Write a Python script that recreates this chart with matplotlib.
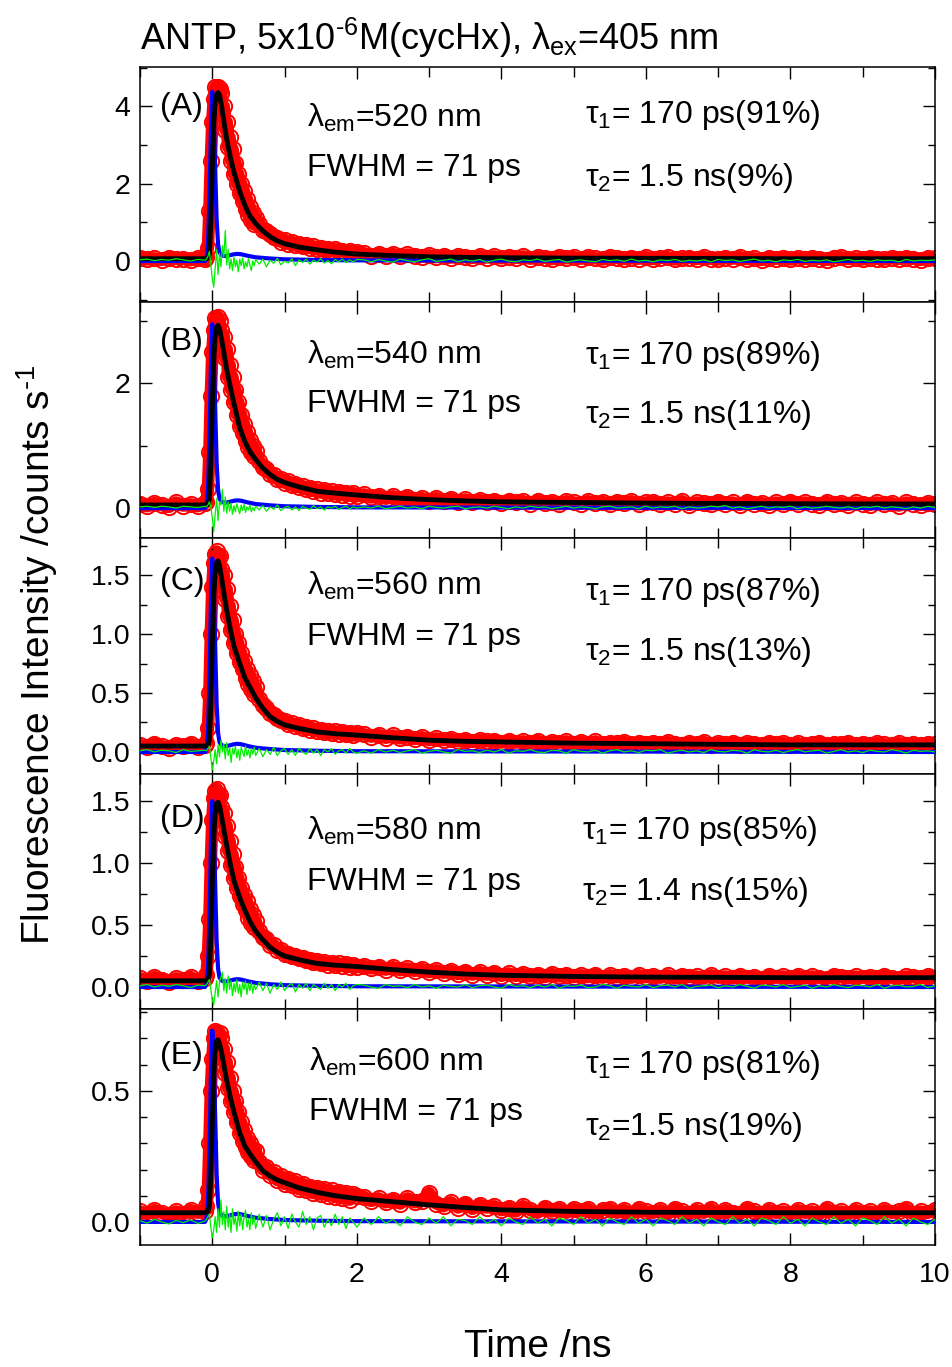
import numpy as np
import matplotlib
matplotlib.use('Agg')
import matplotlib.pyplot as plt
from matplotlib.ticker import MultipleLocator, FormatStrFormatter

plt.rcParams['font.family'] = ['Liberation Sans', 'DejaVu Sans']
plt.rcParams['mathtext.fontset'] = 'custom'
plt.rcParams['mathtext.rm'] = 'Liberation Sans'
plt.rcParams['mathtext.it'] = 'Liberation Sans:italic'
plt.rcParams['mathtext.default'] = 'regular'

# time channels (ns) of the measured points
t_data = np.concatenate([np.arange(-1.0, -0.05, 0.1),
                         np.arange(-0.08, 0.61, 0.02),
                         np.arange(0.65, 2.01, 0.05),
                         np.arange(2.1, 10.01, 0.1)])

data_A = [0.08, 0.04, 0.07, 0.03, 0.09, 0.05, 0.06, 0.02, 0.08, 0.05,
          0.10, 0.35, 1.3, 2.6, 3.6, 4.2, 4.5, 4.45, 4.5,
          4.45, 4.35, 3.85, 4.0, 3.4, 3.6, 2.95, 3.2, 2.6, 2.9,
          2.25, 2.55, 2.0, 2.25, 1.75, 2.0, 1.55, 1.8, 1.35, 1.6,
          1.2, 1.4, 1.05, 1.25, 0.95, 1.12,
          0.95, 0.8, 0.78, 0.7, 0.62, 0.6, 0.5, 0.55, 0.45, 0.5,
          0.42, 0.44, 0.38, 0.42, 0.35, 0.38, 0.31, 0.35, 0.3, 0.32,
          0.26, 0.3, 0.25, 0.27, 0.22, 0.26, 0.2, 0.24,
          0.2, 0.14, 0.19, 0.13, 0.18, 0.12, 0.17, 0.14, 0.11, 0.15,
          0.1, 0.14, 0.09, 0.13, 0.1, 0.08, 0.13, 0.09, 0.12, 0.07,
          0.11, 0.08, 0.12, 0.06, 0.1, 0.09, 0.05, 0.11, 0.07, 0.1,
          0.06, 0.1, 0.07, 0.04, 0.11, 0.08, 0.05, 0.09, 0.06, 0.1,
          0.05, 0.08, 0.1, 0.04, 0.07, 0.09, 0.05, 0.1, 0.06, 0.04,
          0.09, 0.06, 0.1, 0.05, 0.07, 0.03, 0.09, 0.06, 0.08, 0.04,
          0.08, 0.05, 0.09, 0.06, 0.03, 0.08, 0.1, 0.05, 0.07, 0.04,
          0.09, 0.06, 0.04, 0.08, 0.05, 0.09, 0.06, 0.03, 0.08, 0.07]
data_B = [0.07, 0.03, 0.08, 0.05, 0.02, 0.09, 0.04, 0.06, 0.03, 0.08,
          0.1, 0.3, 0.9, 1.8, 2.5, 2.85, 3.05, 3.0, 3.07,
          3.0, 2.85, 2.65, 2.75, 2.4, 2.55, 2.1, 2.3, 1.9, 2.1,
          1.7, 1.9, 1.5, 1.7, 1.32, 1.5, 1.2, 1.35, 1.08, 1.22,
          0.98, 1.1, 0.9, 1.0, 0.83, 0.92,
          0.75, 0.66, 0.62, 0.55, 0.53, 0.47, 0.47, 0.41, 0.43, 0.37,
          0.39, 0.34, 0.35, 0.3, 0.33, 0.28, 0.3, 0.25, 0.29, 0.24,
          0.27, 0.22, 0.26, 0.21, 0.25, 0.2, 0.24, 0.19,
          0.22, 0.17, 0.2, 0.15, 0.19, 0.14, 0.18, 0.13, 0.16, 0.12,
          0.16, 0.11, 0.15, 0.1, 0.14, 0.09, 0.13, 0.1, 0.12, 0.08,
          0.12, 0.09, 0.11, 0.07, 0.12, 0.08, 0.1, 0.06, 0.11, 0.09,
          0.07, 0.11, 0.08, 0.1, 0.06, 0.1, 0.08, 0.11, 0.06, 0.09,
          0.1, 0.06, 0.09, 0.07, 0.11, 0.05, 0.09, 0.08, 0.06, 0.1,
          0.07, 0.09, 0.05, 0.1, 0.07, 0.08, 0.05, 0.09, 0.06, 0.1,
          0.06, 0.09, 0.07, 0.05, 0.1, 0.06, 0.08, 0.05, 0.09, 0.07,
          0.05, 0.09, 0.06, 0.08, 0.04, 0.09, 0.07, 0.05, 0.08, 0.06]
data_C = [0.06, 0.04, 0.07, 0.05, 0.03, 0.06, 0.05, 0.07, 0.04, 0.06,
          0.08, 0.2, 0.5, 1.0, 1.4, 1.6, 1.68, 1.7, 1.66,
          1.66, 1.55, 1.45, 1.5, 1.3, 1.38, 1.15, 1.24, 1.03, 1.12,
          0.92, 1.0, 0.84, 0.92, 0.76, 0.84, 0.7, 0.77, 0.63, 0.7,
          0.58, 0.65, 0.53, 0.6, 0.49, 0.55,
          0.45, 0.4, 0.37, 0.33, 0.31, 0.29, 0.27, 0.26, 0.24, 0.245,
          0.22, 0.23, 0.2, 0.215, 0.19, 0.2, 0.18, 0.19, 0.17, 0.18,
          0.16, 0.175, 0.155, 0.17, 0.15, 0.165, 0.145, 0.16,
          0.15, 0.13, 0.145, 0.12, 0.14, 0.115, 0.13, 0.11, 0.125, 0.1,
          0.115, 0.1, 0.11, 0.09, 0.105, 0.085, 0.1, 0.09, 0.095, 0.08,
          0.095, 0.08, 0.09, 0.075, 0.095, 0.07, 0.085, 0.08, 0.09, 0.07,
          0.085, 0.07, 0.09, 0.065, 0.08, 0.075, 0.085, 0.065, 0.08, 0.07,
          0.08, 0.065, 0.085, 0.07, 0.06, 0.08, 0.07, 0.085, 0.06, 0.075,
          0.065, 0.08, 0.06, 0.075, 0.07, 0.055, 0.08, 0.065, 0.075, 0.06,
          0.075, 0.06, 0.07, 0.08, 0.055, 0.07, 0.065, 0.08, 0.06, 0.07,
          0.06, 0.075, 0.065, 0.055, 0.075, 0.06, 0.07, 0.055, 0.07, 0.065]
data_D = [0.07, 0.05, 0.08, 0.06, 0.04, 0.07, 0.06, 0.08, 0.05, 0.07,
          0.1, 0.25, 0.55, 1.0, 1.35, 1.52, 1.58, 1.6, 1.55,
          1.55, 1.45, 1.35, 1.4, 1.22, 1.3, 1.1, 1.18, 0.98, 1.07,
          0.88, 0.97, 0.8, 0.88, 0.73, 0.8, 0.67, 0.74, 0.62, 0.69,
          0.56, 0.63, 0.52, 0.58, 0.48, 0.53,
          0.45, 0.4, 0.39, 0.34, 0.34, 0.3, 0.3, 0.27, 0.27, 0.25,
          0.25, 0.23, 0.235, 0.215, 0.22, 0.2, 0.21, 0.19, 0.2, 0.18,
          0.195, 0.175, 0.19, 0.17, 0.185, 0.165, 0.18, 0.16,
          0.17, 0.15, 0.165, 0.14, 0.16, 0.135, 0.15, 0.13, 0.145, 0.12,
          0.135, 0.115, 0.13, 0.105, 0.125, 0.1, 0.12, 0.1, 0.115, 0.09,
          0.11, 0.09, 0.105, 0.085, 0.1, 0.08, 0.105, 0.085, 0.1, 0.08,
          0.095, 0.08, 0.1, 0.075, 0.095, 0.08, 0.09, 0.075, 0.095, 0.08,
          0.09, 0.075, 0.095, 0.07, 0.09, 0.08, 0.085, 0.07, 0.095, 0.075,
          0.085, 0.07, 0.09, 0.075, 0.08, 0.065, 0.09, 0.075, 0.085, 0.07,
          0.09, 0.07, 0.085, 0.075, 0.065, 0.09, 0.08, 0.07, 0.085, 0.075,
          0.08, 0.07, 0.09, 0.075, 0.065, 0.085, 0.08, 0.07, 0.09, 0.075]
data_E = [0.04, 0.03, 0.045, 0.035, 0.025, 0.04, 0.03, 0.045, 0.035, 0.04,
          0.06, 0.12, 0.3, 0.5, 0.62, 0.7, 0.73, 0.72, 0.71,
          0.72, 0.7, 0.63, 0.66, 0.57, 0.61, 0.51, 0.55, 0.46, 0.5,
          0.42, 0.46, 0.38, 0.42, 0.34, 0.38, 0.31, 0.35, 0.285, 0.32,
          0.265, 0.3, 0.25, 0.28, 0.235, 0.27,
          0.23, 0.2, 0.21, 0.18, 0.19, 0.16, 0.175, 0.145, 0.165, 0.14,
          0.155, 0.125, 0.145, 0.12, 0.135, 0.11, 0.13, 0.105, 0.125, 0.1,
          0.12, 0.095, 0.115, 0.09, 0.11, 0.085, 0.105, 0.1,
          0.095, 0.08, 0.09, 0.075, 0.085, 0.07, 0.09, 0.075, 0.08, 0.11,
          0.07, 0.06, 0.075, 0.055, 0.07, 0.05, 0.065, 0.055, 0.06, 0.045,
          0.055, 0.04, 0.06, 0.045, 0.035, 0.055, 0.04, 0.05, 0.035, 0.05,
          0.04, 0.05, 0.03, 0.045, 0.05, 0.035, 0.045, 0.03, 0.05, 0.04,
          0.035, 0.045, 0.03, 0.05, 0.04, 0.03, 0.045, 0.035, 0.05, 0.03,
          0.045, 0.035, 0.03, 0.05, 0.04, 0.03, 0.045, 0.035, 0.04, 0.03,
          0.045, 0.035, 0.04, 0.03, 0.05, 0.035, 0.04, 0.03, 0.045, 0.035,
          0.04, 0.03, 0.045, 0.035, 0.04, 0.05, 0.03, 0.04, 0.035, 0.045]

# residual traces (green)
resid_A = [0.03, 0.05, 0.01, 0.04, 0.02, 0.06, 0.03, 0.0, 0.04, 0.02,
           0.05, 0.12, 0.25, -0.1, -0.45, -0.68, -0.2, 0.3, -0.35, 0.2,
           -0.15, 0.4, 0.1, 0.79, -0.1, 0.3, -0.2, 0.05, -0.25, 0.1,
           -0.15, 0.02, -0.28, 0.05, -0.12, 0.08, -0.2, -0.02, -0.15, 0.06,
           -0.1, -0.25, 0.0, -0.12, 0.04,
           -0.08, 0.05, -0.15, 0.02, -0.06, 0.07, -0.1, 0.0, -0.05, 0.06,
           -0.12, 0.03, -0.04, 0.05, -0.08, 0.02, -0.03, 0.06, -0.05, 0.01,
           -0.07, 0.04, -0.02, 0.05, -0.04, 0.03, -0.02, 0.04,
           0.03, -0.02, 0.04, 0.0, -0.03, 0.05, 0.01, -0.02, 0.03, 0.06,
           -0.01, 0.02, 0.05, -0.02, 0.03, 0.0, 0.04, -0.03, 0.02, 0.05,
           0.0, -0.02, 0.03, 0.01, 0.05, -0.01, 0.02, 0.04, -0.03, 0.01,
           0.03, 0.0, -0.02, 0.04, 0.01, 0.03, -0.01, 0.05, 0.0, 0.02,
           -0.02, 0.03, 0.01, 0.04, -0.01, 0.02, 0.0, 0.03, -0.02, 0.04,
           0.01, 0.03, -0.01, 0.02, 0.05, 0.0, 0.02, -0.02, 0.03, 0.01,
           0.04, -0.01, 0.02, 0.0, 0.03, -0.02, 0.01, 0.04, 0.0, 0.02,
           -0.01, 0.03, 0.01, 0.02, -0.02, 0.04, 0.0, 0.02, 0.01, 0.03]
resid_B = [0.02, 0.03, 0.01, 0.03, 0.02, 0.0, 0.03, 0.02, 0.01, 0.03,
           0.02, 0.05, 0.1, 0.02, -0.15, -0.38, -0.1, 0.15, -0.2, 0.1,
           0.05, 0.3, -0.05, 0.18, -0.08, 0.1, -0.05, 0.08, -0.1, 0.04,
           -0.06, 0.07, -0.02, -0.09, 0.05, -0.04, 0.06, -0.07, 0.02, -0.03,
           0.05, -0.06, 0.01, -0.04, 0.03,
           -0.03, 0.04, -0.05, 0.02, -0.02, 0.05, -0.04, 0.01, 0.03, -0.03,
           0.02, -0.04, 0.03, 0.0, -0.02, 0.04, -0.01, 0.02, -0.03, 0.02,
           0.0, 0.03, -0.02, 0.01, 0.03, -0.01, 0.02, 0.0,
           0.02, 0.0, 0.03, -0.01, 0.01, 0.03, 0.0, 0.02, -0.01, 0.03,
           0.01, 0.0, 0.02, 0.03, -0.01, 0.01, 0.02, 0.0, 0.03, 0.01,
           -0.01, 0.02, 0.0, 0.03, 0.01, 0.02, -0.01, 0.01, 0.03, 0.0,
           0.02, 0.01, -0.01, 0.02, 0.03, 0.0, 0.01, 0.02, -0.01, 0.03,
           0.0, 0.02, 0.01, 0.03, -0.01, 0.02, 0.0, 0.01, 0.03, 0.02,
           0.04, 0.0, 0.02, -0.01, 0.01, 0.03, 0.0, 0.02, 0.01, 0.03,
           -0.01, 0.02, 0.0, 0.01, 0.03, 0.01, 0.0, 0.02, -0.01, 0.02,
           0.01, 0.03, 0.0, 0.02, 0.01, -0.01, 0.02, 0.0, 0.03, 0.01]
resid_C = [0.01, 0.02, 0.0, 0.015, 0.01, -0.005, 0.02, 0.005, 0.01, 0.015,
           0.01, 0.03, 0.05, -0.05, -0.15, -0.08, 0.02, -0.1, 0.06, -0.04,
           0.1, 0.0, 0.07, -0.06, 0.08, -0.03, 0.04, -0.09, 0.03, -0.02,
           0.05, -0.05, 0.02, -0.07, 0.04, 0.0, -0.04, 0.05, -0.03, 0.02,
           -0.05, 0.03, -0.02, 0.04, -0.03,
           0.03, -0.04, 0.02, -0.02, 0.04, -0.03, 0.01, 0.03, -0.02, 0.02,
           -0.03, 0.03, 0.0, -0.02, 0.03, -0.01, 0.02, -0.03, 0.02, 0.0,
           0.03, -0.02, 0.01, 0.02, -0.01, 0.03, 0.0, -0.01,
           0.01, -0.01, 0.02, 0.0, 0.015, -0.005, 0.01, 0.02, -0.01, 0.005,
           0.015, 0.0, -0.01, 0.02, 0.005, 0.01, -0.005, 0.015, 0.0, 0.02,
           -0.01, 0.01, 0.005, 0.02, 0.0, -0.005, 0.015, 0.01, -0.01, 0.02,
           0.005, 0.0, 0.015, -0.01, 0.01, 0.02, 0.0, 0.01, -0.005, 0.015,
           0.01, 0.02, -0.01, 0.005, 0.015, 0.0, 0.01, -0.005, 0.02, 0.005,
           0.0, 0.015, 0.01, -0.01, 0.02, 0.005, 0.0, 0.015, -0.005, 0.01,
           0.02, 0.0, 0.01, 0.015, -0.01, 0.005, 0.02, 0.0, 0.01, -0.005,
           0.015, 0.005, 0.0, 0.02, 0.01, -0.01, 0.015, 0.005, 0.01, 0.0]
resid_D = [0.01, 0.02, 0.0, 0.015, 0.005, 0.02, 0.01, -0.005, 0.015, 0.01,
           0.02, 0.04, 0.06, -0.02, -0.1, -0.145, -0.05, 0.05, -0.08, 0.04,
           0.08, 0.12, -0.03, 0.07, -0.05, 0.09, -0.02, 0.05, -0.07, 0.03,
           -0.04, 0.06, -0.05, 0.02, -0.08, 0.04, -0.02, 0.05, -0.06, 0.03,
           -0.03, 0.04, -0.05, 0.02, -0.02,
           0.04, -0.03, 0.03, -0.05, 0.02, -0.02, 0.04, -0.03, 0.01, 0.03,
           -0.04, 0.02, -0.01, 0.03, -0.03, 0.02, 0.0, -0.02, 0.03, -0.01,
           0.02, -0.03, 0.02, 0.0, 0.03, -0.02, 0.01, 0.02,
           0.015, 0.0, -0.01, 0.02, 0.005, 0.01, -0.005, 0.02, 0.0, 0.01,
           -0.01, 0.015, 0.005, 0.0, 0.02, -0.005, 0.01, 0.015, 0.0, -0.01,
           0.02, 0.005, 0.01, -0.005, 0.015, 0.0, 0.02, -0.01, 0.01, 0.005,
           0.015, -0.005, 0.0, 0.02, 0.01, -0.01, 0.015, 0.005, 0.0, 0.02,
           -0.005, 0.01, 0.015, 0.0, 0.02, -0.01, 0.005, 0.01, 0.015, -0.005,
           0.01, 0.0, 0.02, 0.005, -0.01, 0.015, 0.01, 0.0, 0.02, -0.005,
           0.005, 0.015, -0.01, 0.01, 0.0, 0.02, 0.005, -0.005, 0.015, 0.01,
           0.0, 0.02, -0.01, 0.01, 0.015, 0.0, 0.005, 0.02, -0.005, 0.01]
resid_E = [0.005, -0.005, 0.01, 0.0, -0.008, 0.006, -0.003, 0.008, -0.006, 0.004,
           0.01, 0.02, 0.03, -0.02, -0.06, -0.03, 0.02, -0.04, 0.05, -0.02,
           0.084, -0.01, 0.04, -0.03, 0.06, -0.02, 0.03, -0.04, 0.05, -0.01,
           0.02, -0.035, 0.04, -0.015, 0.03, -0.03, 0.02, 0.045, -0.02, 0.01,
           -0.03, 0.035, -0.01, 0.02, -0.025,
           0.03, -0.02, 0.025, -0.03, 0.01, 0.035, -0.015, 0.02, -0.025, 0.03,
           0.0, -0.02, 0.04, -0.01, 0.02, -0.03, 0.015, 0.025, -0.02, 0.01,
           -0.015, 0.03, -0.01, 0.02, -0.025, 0.015, 0.0, -0.02,
           0.015, -0.01, 0.02, -0.005, 0.01, -0.015, 0.02, 0.0, -0.01, 0.015,
           -0.005, 0.02, -0.015, 0.01, 0.005, -0.01, 0.02, -0.005, 0.01, -0.015,
           0.015, 0.0, -0.01, 0.02, -0.005, 0.01, -0.015, 0.015, 0.005, -0.01,
           0.02, -0.005, 0.01, -0.015, 0.015, 0.0, -0.01, 0.02, -0.005, 0.01,
           -0.015, 0.015, 0.005, -0.01, 0.02, -0.005, 0.01, -0.015, 0.015, 0.0,
           -0.01, 0.02, -0.005, 0.01, -0.015, 0.015, 0.005, -0.01, 0.02, -0.005,
           0.01, -0.015, 0.015, 0.0, -0.01, 0.02, -0.005, 0.01, -0.015, 0.015,
           0.005, -0.01, 0.02, -0.005, 0.01, -0.015, 0.015, 0.0, -0.01, 0.01]

# fitted curves (black)
t_fit = [-1.0, -0.1, -0.06, -0.04, -0.02, 0.0, 0.02, 0.04, 0.06, 0.08,
         0.10, 0.13, 0.16, 0.20, 0.25, 0.30, 0.38, 0.45, 0.52, 0.60,
         0.70, 0.80, 0.90, 1.0, 1.2, 1.45, 1.7, 2.0, 2.5, 3.0,
         3.5, 4.0, 5.0, 6.0, 7.0, 8.0, 10.0]
fit_A = [0.06, 0.06, 0.08, 0.2, 1.0, 2.4, 3.5, 4.1, 4.3, 4.36,
         4.3, 4.0, 3.62, 3.15, 2.69, 2.3, 1.8, 1.45, 1.17, 0.97,
         0.78, 0.63, 0.52, 0.45, 0.36, 0.29, 0.23, 0.18, 0.14, 0.11,
         0.095, 0.085, 0.075, 0.07, 0.065, 0.06, 0.06]
fit_B = [0.05, 0.05, 0.06, 0.15, 0.7, 1.6, 2.35, 2.75, 2.9, 2.93,
         2.88, 2.7, 2.5, 2.22, 1.94, 1.68, 1.29, 1.07, 0.91, 0.78,
         0.64, 0.54, 0.46, 0.41, 0.34, 0.27, 0.24, 0.21, 0.165, 0.135,
         0.115, 0.1, 0.09, 0.08, 0.075, 0.07, 0.065]
fit_C = [0.05, 0.05, 0.055, 0.1, 0.4, 0.9, 1.3, 1.52, 1.6, 1.62,
         1.58, 1.47, 1.35, 1.2, 1.04, 0.9, 0.75, 0.63, 0.55, 0.46,
         0.37, 0.30, 0.26, 0.23, 0.20, 0.17, 0.155, 0.143, 0.12, 0.10,
         0.09, 0.085, 0.075, 0.07, 0.065, 0.06, 0.06]
fit_D = [0.05, 0.05, 0.055, 0.1, 0.4, 0.85, 1.2, 1.4, 1.48, 1.49,
         1.46, 1.37, 1.27, 1.14, 0.99, 0.86, 0.72, 0.62, 0.53, 0.45,
         0.38, 0.32, 0.28, 0.25, 0.22, 0.19, 0.176, 0.165, 0.14, 0.12,
         0.105, 0.095, 0.085, 0.08, 0.078, 0.075, 0.075]
fit_E = [0.035, 0.035, 0.04, 0.06, 0.18, 0.38, 0.55, 0.65, 0.69, 0.695,
         0.68, 0.645, 0.60, 0.54, 0.475, 0.42, 0.34, 0.29, 0.26, 0.23,
         0.195, 0.175, 0.16, 0.15, 0.13, 0.113, 0.1, 0.089, 0.077, 0.065,
         0.055, 0.046, 0.04, 0.037, 0.036, 0.035, 0.035]

# instrument response (blue), normalised, with its peak height per panel
t_irf = [-1.0, -0.1, -0.08, -0.06, -0.04, -0.02, 0.0, 0.02, 0.04, 0.06,
         0.08, 0.10, 0.13, 0.16, 0.20, 0.25, 0.30, 0.35, 0.40, 0.45,
         0.50, 0.60, 0.80, 1.0, 1.5, 2.0, 10.0]
irf_shape = [0.0, 0.0, 0.02, 0.10, 0.35, 0.75, 1.0, 0.88, 0.55, 0.25,
             0.10, 0.05, 0.035, 0.03, 0.03, 0.035, 0.04, 0.042, 0.04, 0.035,
             0.03, 0.022, 0.015, 0.01, 0.006, 0.004, 0.0]
irf_peak = [4.38, 2.95, 1.64, 1.50, 0.73]

panel_names = ['(A)', '(B)', '(C)', '(D)', '(E)']
em_wavelength = [520, 540, 560, 580, 600]
tau1_text = ['= 170 ps(91%)', '= 170 ps(89%)', '= 170 ps(87%)', '= 170 ps(85%)', '= 170 ps(81%)']
tau2_text = ['= 1.5 ns(9%)', '= 1.5 ns(11%)', '= 1.5 ns(13%)', '= 1.4 ns(15%)', '=1.5 ns(19%)']
y_limits = [(-1.07, 5.03), (-0.48, 3.30), (-0.184, 1.814), (-0.18, 1.72), (-0.088, 0.811)]
y_major = [2, 2, 0.5, 0.5, 0.5]
y_minor = [1, 1, 0.25, 0.25, 0.1]
y_fmt = ['%d', '%d', '%.1f', '%.1f', '%.1f']

datas = [data_A, data_B, data_C, data_D, data_E]
resids = [resid_A, resid_B, resid_C, resid_D, resid_E]
fits = [fit_A, fit_B, fit_C, fit_D, fit_E]

# text placement (axes fraction)
lab_y = [0.795, 0.798, 0.779, 0.774, 0.768]
lam_y = [0.746, 0.74, 0.76, 0.717, 0.737]
fwhm_y = [0.535, 0.535, 0.547, 0.507, 0.531]
t1_y = [0.759, 0.74, 0.739, 0.721, 0.728]
t2_y = [0.494, 0.489, 0.483, 0.465, 0.468]
lam_x = [0.21, 0.21, 0.21, 0.21, 0.2126]
tau_x = [0.56, 0.56, 0.56, 0.556, 0.56]

fig, axes = plt.subplots(5, 1, figsize=(9.52, 13.67), dpi=100, sharex=True)
fig.subplots_adjust(left=140 / 952, right=935 / 952, top=1 - 66.7 / 1367,
                    bottom=1 - 1245 / 1367, hspace=0)

for i, ax in enumerate(axes):
    ax.plot(t_data, datas[i], color='red', lw=9, zorder=1)
    ax.plot(t_data, datas[i], 'o', mfc='none', mec='red', ms=11, mew=1.4, zorder=2)
    ax.plot(t_irf, np.array(irf_shape) * irf_peak[i], color='blue', lw=3, zorder=3)
    ax.plot(t_fit, fits[i], color='black', lw=3.5, zorder=4)
    ax.plot(t_data, resids[i], color='#00ee00', lw=0.9, zorder=5)

    ax.set_xlim(-1, 10)
    ax.set_ylim(*y_limits[i])
    ax.xaxis.set_major_locator(MultipleLocator(2))
    ax.xaxis.set_minor_locator(MultipleLocator(1))
    ax.yaxis.set_major_locator(MultipleLocator(y_major[i]))
    ax.yaxis.set_minor_locator(MultipleLocator(y_minor[i]))
    ax.yaxis.set_major_formatter(FormatStrFormatter(y_fmt[i]))
    ax.tick_params(which='both', direction='in', top=True, right=True, width=1.0)
    ax.tick_params(which='major', length=8.5, labelsize=20.5)
    ax.tick_params(which='minor', length=5)
    ax.tick_params(axis='x', which='minor', length=7.5)
    ax.tick_params(axis='x', which='major', pad=12)
    ax.tick_params(axis='y', which='major', pad=7)
    for sp in ax.spines.values():
        sp.set_linewidth(1.1)

    ax.text(0.025, lab_y[i], panel_names[i], transform=ax.transAxes, fontsize=23)
    ax.text(lam_x[i], lam_y[i], 'λ$_{em}$=%d nm' % em_wavelength[i],
            transform=ax.transAxes, fontsize=23)
    ax.text(lam_x[i], fwhm_y[i], 'FWHM = 71 ps', transform=ax.transAxes, fontsize=23)
    ax.text(tau_x[i], t1_y[i], 'τ$_1$' + tau1_text[i], transform=ax.transAxes, fontsize=23)
    ax.text(tau_x[i], t2_y[i], 'τ$_2$' + tau2_text[i], transform=ax.transAxes, fontsize=23)

fig.text(140 / 952, 1 - 38 / 1367, 'ANTP, 5x10$^{‐6}$M(cycHx), λ$_{ex}$=405 nm',
         fontsize=26, ha='left', va='center')
fig.text(537.5 / 952, 1 - 1347 / 1367, 'Time /ns', fontsize=28, ha='center', va='center')
fig.text(37 / 952, 1 - 655 / 1367, 'Fluorescence Intensity /counts s$^{‐1}$',
         fontsize=28, ha='center', va='center', rotation=90)

fig.savefig('out.png', dpi=100)
